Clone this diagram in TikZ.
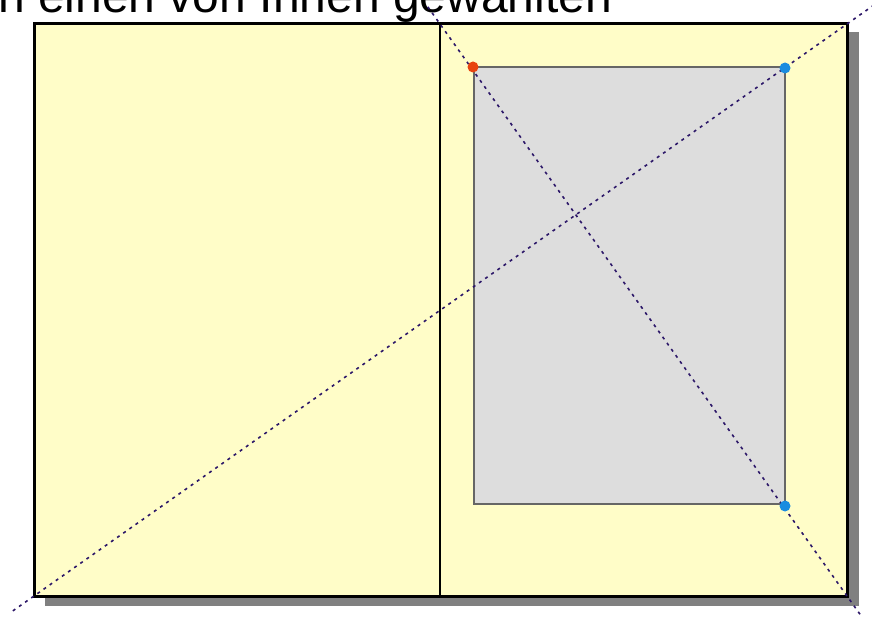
\documentclass[tikz,border=0pt]{standalone}
\usepackage{fontspec}
\setmainfont{Liberation Sans}
\usetikzlibrary{calc}
\definecolor{PagePaper}{HTML}{FFFDC8}
\definecolor{PageShadow}{HTML}{808080}
\definecolor{FrameFill}{HTML}{DDDDDD}
\definecolor{FrameLine}{HTML}{666666}
\definecolor{GuideLine}{HTML}{2C1768}
\definecolor{HandleRed}{HTML}{E8440E}
\definecolor{HandleBlue}{HTML}{1A8CE0}

\begin{document}
\begin{tikzpicture}[x=1pt,y=-1pt]
    \tikzset{page/.style={fill=PagePaper,draw=black,line width=3pt},
      shadow/.style={fill=PageShadow},
      frame/.style={fill=FrameFill,draw=FrameLine,line width=1.8pt},
      guide/.style={draw=GuideLine,line width=1.6pt,dash pattern=on 3pt off 4.5pt},
      handle/.style={circle,inner sep=0pt,minimum size=11pt}}
    \useasboundingbox (0,0) rectangle (872,617);
    \clip (0,0) rectangle (872,617);
    % spread corners
    \coordinate (tl) at (34,24);
    \coordinate (tr) at (847,24);
    \coordinate (bl) at (34,596);
    \coordinate (br) at (847,596);
    \coordinate (mt) at (440,24);
    \coordinate (mb) at (440,596);
    \node[anchor=base west,font=\fontsize{48}{50}\selectfont,inner sep=0pt] (title) at (-2,13) {n einen von Ihnen gewählten};
    \fill[shadow] ($(tl)+(11,8)$) rectangle ($(br)+(12,10)$);
    \draw[page] (tl) rectangle (br);
    \draw[line width=2.5pt] (mt) -- (mb);
    \draw[frame] (474,67) rectangle (785,504);
    % diagonals
    \draw[guide] ($(bl)!-0.026!(tr)$) -- ($(bl)!1.05!(tr)$);
    \draw[guide] ($(mt)!-0.03!(br)$) -- ($(mt)!1.05!(br)$);
    \node[handle,fill=HandleRed] (h1) at (473,67) {};
    \node[handle,fill=HandleBlue] (h2) at (785,68) {};
    \node[handle,fill=HandleBlue] (h3) at (785,506) {};
  \end{tikzpicture}
\end{document}
